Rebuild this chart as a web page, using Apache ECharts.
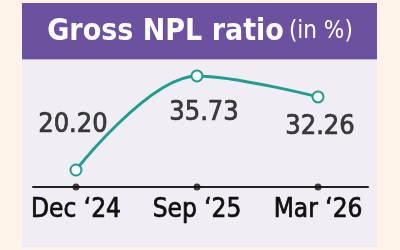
<!DOCTYPE html>
<html><head><meta charset="utf-8">
<script src="https://cdn.jsdelivr.net/npm/echarts@6/dist/echarts.min.js"></script>
<style>
html,body{margin:0;padding:0;background:#fdf3e8;}
#c{width:400px;height:250px;}
</style></head>
<body><div id="c"></div>
<script>
const categories = ['Dec \u201824', 'Sep \u201825', 'Mar \u201826'];
const values = [20.20, 35.73, 32.26];
const valueLabels = ['20.20', '35.73', '32.26'];
const titleMain = 'Gross NPL ratio';
const titleSub = '(in %)';

const FONT = '"DejaVu Sans Condensed", "Liberation Sans Narrow", sans-serif';
const yMin = 17.4, yMax = 40;
const labelOffsets = [[-3, -45], [7, 37], [2, 30]];

const chart = echarts.init(document.getElementById('c'), null, {renderer: 'canvas'});
chart.setOption({
  backgroundColor: '#fdf3e8',
  animation: false,
  graphic: [
    {type: 'rect', shape: {x: 22, y: 3, width: 355, height: 244}, style: {fill: '#f1edf5'}, z: -10},
    {type: 'rect', shape: {x: 22, y: 3, width: 355, height: 56}, style: {fill: '#6b51a0'}, z: -9},
    {type: 'rect', shape: {x: 22, y: 59, width: 355, height: 1}, style: {fill: '#c0b2dc'}, z: -9}
  ],
  title: {
    text: '{a|' + titleMain + '} {b|' + titleSub + '}',
    left: 'center', top: 12,
    textStyle: {
      rich: {
        a: {fontFamily: FONT, fontWeight: 'bold', fontSize: 30, color: '#ffffff'},
        b: {fontFamily: FONT, fontWeight: 'normal', fontSize: 24, color: '#ffffff'}
      }
    }
  },
  grid: {left: 33, right: 32, top: 50, bottom: 63},
  xAxis: {
    type: 'value', min: -0.355, max: 2.413,
    axisLine: {show: true, onZero: false, lineStyle: {color: '#222', width: 2}},
    axisTick: {show: false},
    splitLine: {show: false},
    axisLabel: {
      customValues: [0, 1, 2],
      formatter: v => categories[Math.round(v)],
      fontFamily: FONT, fontSize: 26, color: '#111', margin: 10,
      textBorderColor: '#111', textBorderWidth: 0.7
    }
  },
  yAxis: {
    type: 'value', min: yMin, max: yMax,
    show: false
  },
  series: [
    {
      type: 'line',
      data: values.map((v, i) => [i, v]),
      smooth: 0.35,
      symbol: 'emptyCircle',
      symbolSize: 11,
      lineStyle: {color: '#1e9e8e', width: 3},
      itemStyle: {color: '#1e9e8e', borderWidth: 2},
      label: {show: false},
      z: 3
    },
    {
      type: 'scatter',
      data: values.map((v, i) => ({
        value: [i, v],
        label: {offset: labelOffsets[i]}
      })),
      symbolSize: 0,
      silent: true,
      label: {
        show: true, position: 'inside',
        formatter: p => valueLabels[p.dataIndex],
        fontFamily: FONT, fontSize: 27, color: '#111',
        textBorderColor: '#111', textBorderWidth: 0.7
      },
      z: 4
    },
    {
      type: 'scatter',
      data: categories.map((c, i) => [i, yMin]),
      symbolSize: 7,
      itemStyle: {color: '#111'},
      clip: false,
      silent: true,
      z: 5
    }
  ]
});
</script>
</body></html>
